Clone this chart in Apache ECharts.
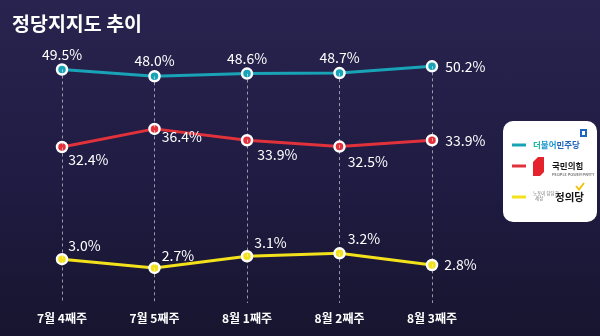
<!DOCTYPE html>
<html>
<head>
<meta charset="utf-8">
<script src="https://cdn.jsdelivr.net/npm/echarts@6/dist/echarts.min.js"></script>
<style>
html,body{margin:0;padding:0;}
body{width:600px;height:336px;overflow:hidden;background:linear-gradient(180deg,#29244f 0%,#1f1b42 55%,#17152f 100%);}
#c{width:600px;height:336px;}
</style>
</head>
<body>
<div id="c"></div>
<script>
const titleText = '정당지지도 추이';
const categories = ['7월 4째주', '7월 5째주', '8월 1째주', '8월 2째주', '8월 3째주'];
const seriesNames = ['더불어민주당', '국민의힘', '정의당'];
const minjoo = [49.5, 48.0, 48.6, 48.7, 50.2];
const ppp = [32.4, 36.4, 33.9, 32.5, 33.9];
const justice = [3.0, 2.7, 3.1, 3.2, 2.8];

const FONT = '"Noto Sans CJK KR", "Noto Sans", sans-serif';
const colors = ['#18a3b6', '#e1323b', '#f3e11b'];
const axis0 = {min: -2, max: 56};
const axis1 = {min: 1.5, max: 10.5};

// label placement (style only): [mode, dx, dy]
const labelSpots = [
  [['top', 0, -2], ['top', 0, -2], ['top', 0, -2], ['top', 0, -2], ['right', 7, 0]],
  [['right', 0, 13], ['right', 1, 8], ['right', 4, 14], ['right', 2, 15], ['right', 7, 0]],
  [['right', 0, -13], ['right', 1, -12], ['right', 1, -14], ['right', 2, -15], ['right', 6, 0]]
];

function buildData(values, si) {
  return values.map((v, i) => {
    const s = labelSpots[si][i];
    return {
      value: v,
      label: {position: s[0], distance: 0, offset: [s[1], s[2]]}
    };
  });
}

function lineSeries(name, values, si, yIdx) {
  return {
    name: name,
    type: 'line',
    yAxisIndex: yIdx,
    z: 3,
    data: buildData(values, si),
    symbol: 'circle',
    symbolSize: 10,
    lineStyle: {color: colors[si], width: 3},
    itemStyle: {color: colors[si], borderColor: '#ffffff', borderWidth: 2.5},
    label: {
      show: true,
      color: '#ffffff',
      fontSize: 14,
      fontFamily: FONT,
      formatter: p => p.value.toFixed(1) + '%'
    },
    emphasis: {disabled: true}
  };
}

const legendRich = {
  d1: {color: '#17b19c', fontSize: 8.5, fontWeight: 'bold', padding: [0, 0, 0, 2]},
  d2: {color: '#1d97cf', fontSize: 8.5, fontWeight: 'bold'},
  d3: {color: '#1f64bd', fontSize: 8.5, fontWeight: 'bold'},
  pp: {color: '#141414', fontSize: 8.5, fontWeight: 'bold', padding: [0, 0, 0, 21]},
  jd: {color: '#141414', fontSize: 10.5, fontWeight: 'bold', padding: [0, 0, 0, 24]}
};
const legendText = ['{d1|더}{d2|불어}{d3|민주당}', '{pp|국민의힘}', '{jd|정의당}'];
const legendCenters = [145, 166, 197];

function legendFor(i) {
  return {
    orient: 'vertical',
    left: 512,
    top: legendCenters[i] - 6,
    padding: 0,
    itemWidth: 14,
    itemHeight: 3,
    icon: 'rect',
    selectedMode: false,
    data: [seriesNames[i]],
    itemStyle: {borderWidth: 0},
    lineStyle: {width: 3},
    formatter: () => legendText[i],
    textStyle: {fontFamily: FONT, fontSize: 10, lineHeight: 12, rich: legendRich}
  };
}

const chart = echarts.init(document.getElementById('c'), null, {renderer: 'canvas'});
chart.setOption({
  backgroundColor: 'transparent',
  animation: false,
  textStyle: {fontFamily: FONT},
  title: {
    text: titleText, left: 7, top: 9,
    textStyle: {color: '#ffffff', fontSize: 19.5, fontWeight: 'bold', fontFamily: FONT}
  },
  grid: {left: 62, right: 168, top: 40, bottom: 33},
  xAxis: {
    type: 'category',
    data: categories,
    boundaryGap: false,
    axisLine: {show: false},
    axisTick: {show: false},
    splitLine: {show: false},
    axisLabel: {color: '#ffffff', fontSize: 12, fontWeight: 'bold', fontFamily: FONT, margin: 9}
  },
  yAxis: [
    {type: 'value', min: axis0.min, max: axis0.max, show: false},
    {type: 'value', min: axis1.min, max: axis1.max, show: false}
  ],
  legend: [legendFor(0), legendFor(1), legendFor(2)],
  graphic: [
    {type: 'rect', z: 1, shape: {x: 503, y: 121, width: 94, height: 101, r: 10}, style: {fill: '#ffffff'}},
    {type: 'rect', z: 5, shape: {x: 580, y: 129, width: 7, height: 8}, style: {fill: '#1f66c1'}},
    {type: 'rect', z: 6, shape: {x: 582, y: 131, width: 3, height: 4}, style: {fill: '#ffffff'}},
    {type: 'polygon', z: 5, shape: {points: [[538, 157], [544, 157], [544, 172], [540, 176], [533, 176], [533, 162]]}, style: {fill: '#e5232c'}},
    {type: 'text', z: 5, left: 552, top: 172, style: {text: 'PEOPLE POWER PARTY', fontSize: 4, fill: '#444', fontFamily: FONT}},
    {type: 'text', z: 5, left: 533, top: 191, style: {text: '노동이 당당한\n  세상', fontSize: 4.5, lineHeight: 5, fill: '#777', fontFamily: FONT}},
    {type: 'polyline', z: 5, shape: {points: [[576, 186], [579, 189.5], [584, 183]]}, style: {stroke: '#f0c000', lineWidth: 1.8, fill: null}}
  ],
  series: [
    {
      name: 'guides',
      type: 'line',
      yAxisIndex: 0,
      z: 1,
      data: minjoo,
      symbol: 'none',
      silent: true,
      lineStyle: {opacity: 0},
      markLine: {
        silent: true,
        symbol: 'none',
        label: {show: false},
        lineStyle: {type: [3, 3], color: 'rgba(255,255,255,0.55)', width: 1},
        data: categories.map((c, i) => [{coord: [i, minjoo[i]]}, {coord: [i, axis0.min]}])
      }
    },
    lineSeries(seriesNames[0], minjoo, 0, 0),
    lineSeries(seriesNames[1], ppp, 1, 0),
    lineSeries(seriesNames[2], justice, 2, 1)
  ]
});
</script>
</body>
</html>
